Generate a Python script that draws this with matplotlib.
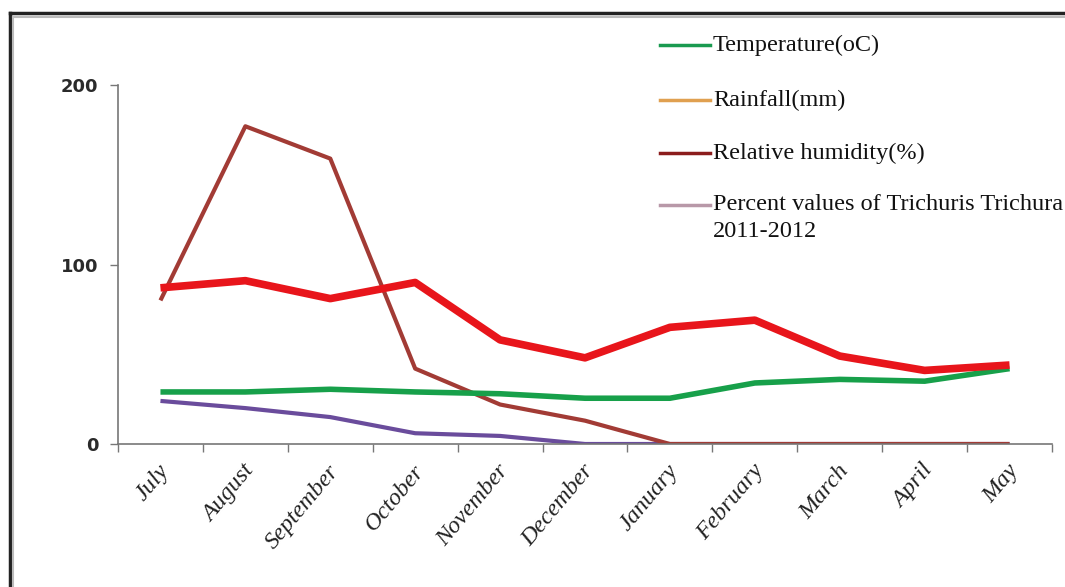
import matplotlib.pyplot as plt
from matplotlib.lines import Line2D
import matplotlib.transforms as mtransforms

months = ['July', 'August', 'September', 'October', 'November', 'December',
          'January', 'February', 'March', 'April', 'May']
temperature = [29, 29, 30.5, 29, 28, 25.5, 25.5, 34, 36, 35, 42]
rainfall = [80, 177, 159, 42, 22, 13, 0, 0, 0, 0, 0]
humidity = [87, 91, 81, 90, 58, 48, 65, 69, 49, 41, 44]
trichuris = [24, 20, 15, 6, 4.5, 0, 0, 0, 0, 0, 0]
yticks = [0, 100, 200]

legend_labels = ['Temperature(oC)', 'Rainfall(mm)', 'Relative humidity(%)',
                 'Percent values of Trichuris Trichura']
legend_colors = ['#1a9a50', '#e0a050', '#8b1c1c', '#b898a8']

fig = plt.figure(figsize=(10.65, 5.87), dpi=100)
ax = fig.add_axes([0.1108, 0.2436, 0.877, 0.6116])

x = list(range(len(months)))
ax.plot(x, trichuris, color='#6a4c9c', lw=3, solid_capstyle='butt')
ax.plot(x, rainfall, color='#a23b35', lw=3, solid_capstyle='butt')
ax.plot(x, temperature, color='#17a04a', lw=4, solid_capstyle='butt')
ax.plot(x, humidity, color='#e8151b', lw=5.5, solid_capstyle='butt')

ax.set_xlim(-0.5, len(months) - 0.5)
ax.set_ylim(0, 200)
ax.set_yticks(yticks)
ax.set_yticklabels([str(v) for v in yticks], fontsize=13, color='#2a2a2a',
                   fontweight='bold', family='DejaVu Sans')

# ticks sit on category boundaries, labels at category centres
ax.set_xticks([i - 0.5 for i in range(len(months) + 1)])
ax.set_xticklabels([])
ax.set_xticks(x, minor=True)
ax.set_xticklabels(months, minor=True, rotation=50, ha='right',
                   rotation_mode='anchor', fontsize=17.5, family='Liberation Serif',
                   style='italic', color='#222222')
ax.tick_params(axis='x', which='minor', length=0, pad=12)
offset = mtransforms.ScaledTranslation(-0.03, 0, fig.dpi_scale_trans)
for lab in ax.get_xticklabels(minor=True):
    lab.set_transform(lab.get_transform() + offset)
ax.tick_params(axis='both', which='major', length=6, width=1, color='#777777')
ax.tick_params(axis='y', pad=8)

for side in ['top', 'right']:
    ax.spines[side].set_visible(False)
for side in ['left', 'bottom']:
    ax.spines[side].set_color('#777777')
    ax.spines[side].set_linewidth(1.2)

# legend drawn by hand so the handle stays on the first line of each label
ys = [0.9233, 0.8296, 0.7394, 0.6508]
for label, color, y in zip(legend_labels, legend_colors, ys):
    fig.add_artist(Line2D([0.620, 0.667], [y, y], transform=fig.transFigure,
                          color=color, lw=2.5))
    fig.text(0.6695, y, label, family='Liberation Serif', fontsize=17.5,
             va='center', ha='left', color='#111111')
fig.text(0.6695, 0.6048, '2011-2012', family='Liberation Serif', fontsize=17.5,
         va='center', ha='left', color='#111111')

# double border around the picture (left and top edges)
fig.add_artist(Line2D([0.009, 0.009], [0, 0.978], transform=fig.transFigure,
                      color='#222222', lw=2.5))
fig.add_artist(Line2D([0.009, 1], [0.978, 0.978], transform=fig.transFigure,
                      color='#222222', lw=2.5))
fig.add_artist(Line2D([0.0125, 0.0125], [0, 0.971], transform=fig.transFigure,
                      color='#bbbbbb', lw=1.5))
fig.add_artist(Line2D([0.0125, 1], [0.971, 0.971], transform=fig.transFigure,
                      color='#bbbbbb', lw=1.5))

fig.savefig('out.png', dpi=100)
